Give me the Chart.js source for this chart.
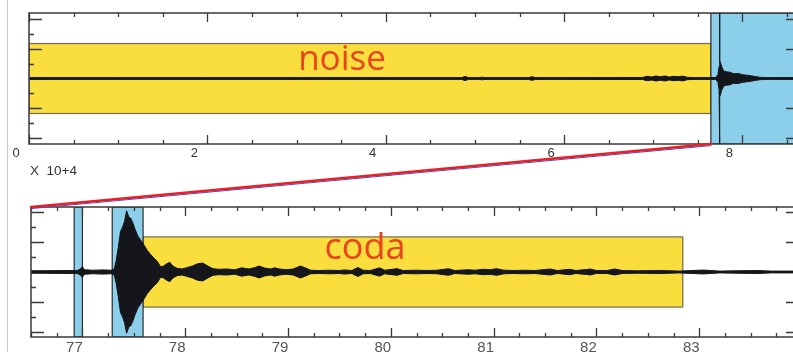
<!DOCTYPE html>
<html><head><meta charset="utf-8">
<script src="https://cdn.jsdelivr.net/npm/chart.js@4.4.1/dist/chart.umd.min.js"></script>
<style>
html,body{margin:0;padding:0;width:793px;height:352px;overflow:hidden;background:#fff;}
#wrap{position:relative;width:793px;height:352px;overflow:hidden;}
canvas{position:absolute;left:0;}
#c1{top:0;width:830px;height:180px;}
#c2{top:140px;width:830px;height:212px;}
.lbl{position:absolute;font-family:"Open Sans",sans-serif;color:#e9431f;white-space:nowrap;transform:translate(-50%,-50%);line-height:1;}
#noise{left:342px;top:56px;font-size:35px;}
#coda{left:365px;top:246px;font-size:36px;}
#mult{position:absolute;left:30px;top:163px;font-family:"Liberation Sans",sans-serif;font-size:13.5px;color:#333;white-space:pre;}
#vline{position:absolute;left:7px;top:0;width:1px;height:352px;background:#c8c8c8;}
</style></head><body>
<div id="wrap">
<div id="vline"></div>
<canvas id="c1" width="830" height="180"></canvas>
<canvas id="c2" width="830" height="212"></canvas>
<div class="lbl" id="noise">noise</div>
<div class="lbl" id="coda">coda</div>
<div id="mult">X  10+4</div>
</div>
<script>
// ---------- DATA ----------
// top panel: time (x 10^4 s) and trace envelope amplitude
const topTime = [0, 1.0, 2.0, 3.0, 4.0, 4.85, 4.89, 4.93, 5.05, 5.08, 5.11, 5.60, 5.64, 5.68, 6.0, 6.88, 6.93, 6.98, 7.03, 7.08, 7.13, 7.18, 7.23, 7.28, 7.33, 7.38, 7.45, 7.70, 7.725, 7.738, 7.743, 7.745, 7.747, 7.752, 7.77, 7.79, 7.82, 7.86, 7.90, 7.95, 8.0, 8.05, 8.10, 8.15, 8.20, 8.25, 8.30, 8.70];
const topAmp  = [0.06, 0.06, 0.06, 0.06, 0.06, 0.06, 0.14, 0.06, 0.06, 0.09, 0.06, 0.06, 0.12, 0.06, 0.06, 0.07, 0.15, 0.10, 0.17, 0.12, 0.17, 0.10, 0.15, 0.12, 0.16, 0.08, 0.06, 0.06, 0.25, 0.8, 1.0, 4.6, 1.2, 1.1, 0.75, 0.5, 0.45, 0.42, 0.32, 0.34, 0.26, 0.22, 0.18, 0.12, 0.08, 0.06, 0.06, 0.06];
const topTickValues = [0, 2, 4, 6, 8];
const noiseWindow = [0, 7.646];
const topZoomWindow = [7.646, 9.0];

// bottom panel: time (x 10^3 s) and trace envelope amplitude
const botTime = [76.5, 76.9, 76.95, 76.98, 77.0, 77.02, 77.1, 77.2, 77.28, 77.31, 77.33, 77.35, 77.37, 77.39, 77.41, 77.43, 77.45, 77.47, 77.49, 77.51, 77.54, 77.57, 77.60, 77.63, 77.66, 77.70, 77.73, 77.76, 77.79, 77.82, 77.85, 77.88, 77.92, 77.97, 78.02, 78.07, 78.12, 78.17, 78.22, 78.27, 78.33, 78.41, 78.48, 78.55, 78.62, 78.68, 78.72, 78.77, 78.83, 78.87, 78.92, 78.98, 79.05, 79.12, 79.16, 79.22, 79.30, 79.40, 79.50, 79.55, 79.62, 79.68, 79.73, 79.80, 79.89, 79.94, 80.06, 80.12, 80.25, 80.35, 80.45, 80.56, 80.62, 80.75, 80.82, 80.90, 80.97, 81.03, 81.10, 81.20, 81.30, 81.40, 81.55, 81.62, 81.74, 81.80, 81.90, 81.94, 82.0, 82.10, 82.18, 82.25, 82.40, 82.62, 82.80, 83.04, 83.20, 83.35, 83.56, 83.70, 84.2];
const botAmp  = [0.08, 0.10, 0.10, 0.20, 0.35, 0.15, 0.12, 0.14, 0.12, 0.20, 0.80, 1.70, 2.70, 3.00, 3.40, 4.10, 3.70, 3.60, 3.30, 2.90, 2.40, 2.10, 1.80, 1.45, 1.20, 0.90, 0.70, 0.35, 0.40, 0.55, 0.65, 0.40, 0.25, 0.20, 0.30, 0.40, 0.55, 0.60, 0.40, 0.22, 0.18, 0.20, 0.15, 0.28, 0.20, 0.30, 0.40, 0.27, 0.20, 0.28, 0.20, 0.15, 0.20, 0.40, 0.30, 0.12, 0.10, 0.12, 0.10, 0.14, 0.10, 0.30, 0.12, 0.10, 0.28, 0.12, 0.22, 0.10, 0.12, 0.10, 0.12, 0.22, 0.10, 0.15, 0.12, 0.18, 0.16, 0.22, 0.12, 0.10, 0.12, 0.10, 0.20, 0.10, 0.18, 0.10, 0.16, 0.20, 0.10, 0.10, 0.20, 0.10, 0.08, 0.10, 0.06, 0.13, 0.06, 0.08, 0.10, 0.06, 0.06];
const botTickValues = [77, 78, 79, 80, 81, 82, 83];
const pWindow1 = [76.92, 77.0];
const pWindow2 = [77.29, 77.59];
const codaWindow = [77.59, 82.84];
const boxHalf = 2.35;

// ---------- STYLE ----------
const YELLOW = 'rgb(250,222,62)';
const BLUE = 'rgb(140,207,234)';
const TRACE = '#15151c';
const FRAME = '#3a3a3a';

function envelopeDatasets(t, a) {
  return [
    { data: t.map((v, i) => ({ x: v, y: a[i] })), borderColor: TRACE, backgroundColor: TRACE, borderWidth: 1, pointRadius: 0, fill: '+1', tension: 0 },
    { data: t.map((v, i) => ({ x: v, y: -a[i] })), borderColor: TRACE, backgroundColor: TRACE, borderWidth: 1, pointRadius: 0, fill: false, tension: 0 }
  ];
}

function windowsPlugin(wins) {
  return {
    id: 'wins',
    beforeDatasetsDraw(chart) {
      const { ctx, chartArea: a, scales: { x, y } } = chart;
      ctx.save();
      ctx.beginPath(); ctx.rect(a.left, a.top, a.right - a.left, a.bottom - a.top); ctx.clip();
      wins.forEach(w => {
        const x0 = x.getPixelForValue(w.range[0]), x1 = x.getPixelForValue(w.range[1]);
        const y0 = w.half ? y.getPixelForValue(w.half) : a.top;
        const y1 = w.half ? y.getPixelForValue(-w.half) : a.bottom;
        ctx.fillStyle = w.color;
        ctx.fillRect(x0, y0, x1 - x0, y1 - y0);
        ctx.strokeStyle = w.edge; ctx.lineWidth = 1.2;
        ctx.strokeRect(x0, y0, x1 - x0, y1 - y0);
      });
      ctx.restore();
    }
  };
}

function framePlugin(minorStep, majorStep) {
  return {
    id: 'frame',
    afterDatasetsDraw(chart) {
      const { ctx, chartArea: a, scales: { x, y } } = chart;
      ctx.save();
      ctx.strokeStyle = FRAME; ctx.lineWidth = 1.5;
      ctx.strokeRect(a.left, a.top, a.right - a.left, a.bottom - a.top);
      ctx.lineWidth = 1.3;
      ctx.beginPath();
      const n0 = Math.ceil(x.min / minorStep), n1 = Math.floor(x.max / minorStep);
      for (let n = n0; n <= n1; n++) {
        const v = n * minorStep;
        const r = v / majorStep;
        const major = Math.abs(r - Math.round(r)) < 1e-6;
        const px = Math.round(x.getPixelForValue(v)) + 0.5;
        const L = major ? 9 : 4;
        ctx.moveTo(px, a.top); ctx.lineTo(px, a.top + L);
        ctx.moveTo(px, a.bottom); ctx.lineTo(px, a.bottom - L);
      }
      for (let v = Math.ceil(y.min); v <= Math.floor(y.max); v++) {
        if (v === 0) continue;
        const py = Math.round(y.getPixelForValue(v)) + 0.5;
        const L = (v % 2 === 0) ? 13 : 5;
        ctx.moveTo(a.left, py); ctx.lineTo(a.left + L, py);
        ctx.moveTo(a.right, py); ctx.lineTo(a.right - L, py);
      }
      ctx.stroke();
      ctx.restore();
    }
  };
}

function xScale(min, max, ticks, fontSize, offset, pad, height, color) {
  return {
    type: 'linear', min, max,
    grid: { display: false, drawTicks: false },
    border: { display: false },
    afterBuildTicks: s => { s.ticks = ticks.map(v => ({ value: v })); },
    afterFit: s => { s.height = height; },
    ticks: {
      autoSkip: false, maxRotation: 0, padding: pad, labelOffset: offset, color,
      font: { family: 'Liberation Sans', size: fontSize },
      callback: v => String(v)
    }
  };
}

const baseOptions = {
  responsive: false, animation: false, devicePixelRatio: 1,
  plugins: { legend: { display: false }, tooltip: { enabled: false } },
  elements: { line: { borderJoinStyle: 'round' } }
};

const chart1 = new Chart(document.getElementById('c1'), {
  type: 'line',
  data: { datasets: envelopeDatasets(topTime, topAmp) },
  options: {
    ...baseOptions,
    layout: { padding: { left: 29, top: 13, right: 31, bottom: 0 } },
    scales: {
      x: xScale(0, 8.634, topTickValues, 13, -13, 2, 36, '#333'),
      y: { display: false, min: -4.4, max: 4.4 }
    }
  },
  plugins: [
    windowsPlugin([
      { range: noiseWindow, half: boxHalf, color: YELLOW, edge: 'rgba(80,75,60,0.8)' },
      { range: topZoomWindow, half: 0, color: BLUE, edge: '#2a2a2a' }
    ]),
    framePlugin(0.5, 2)
  ]
});

const linkPlugin = {
  id: 'link',
  afterDraw(chart) {
    const { ctx, chartArea: a } = chart;
    const off = 140;
    const sx = chart1.scales.x.getPixelForValue(topZoomWindow[0]);
    const sy = chart1.chartArea.bottom - off;
    ctx.save();
    ctx.lineCap = 'round';
    ctx.strokeStyle = 'rgb(60,80,210)'; ctx.lineWidth = 1;
    ctx.beginPath(); ctx.moveTo(sx, sy + 1.6); ctx.lineTo(a.left, a.top + 1.6); ctx.stroke();
    ctx.strokeStyle = 'rgb(232,32,36)'; ctx.lineWidth = 2.4;
    ctx.beginPath(); ctx.moveTo(sx, sy); ctx.lineTo(a.left, a.top); ctx.stroke();
    ctx.restore();
  }
};

const chart2 = new Chart(document.getElementById('c2'), {
  type: 'line',
  data: { datasets: envelopeDatasets(botTime, botAmp) },
  options: {
    ...baseOptions,
    layout: { padding: { left: 31, top: 67, right: 31, bottom: 0 } },
    scales: {
      x: xScale(76.5, 83.97, botTickValues, 15, -8, 2, 15, '#555'),
      y: { display: false, min: -4.35, max: 4.35 }
    }
  },
  plugins: [
    windowsPlugin([
      { range: codaWindow, half: boxHalf, color: YELLOW, edge: 'rgba(80,75,60,0.8)' },
      { range: pWindow1, half: 0, color: BLUE, edge: '#2a2a2a' },
      { range: pWindow2, half: 0, color: BLUE, edge: '#2a2a2a' }
    ]),
    framePlugin(0.25, 1),
    linkPlugin
  ]
});
</script>
</body></html>
